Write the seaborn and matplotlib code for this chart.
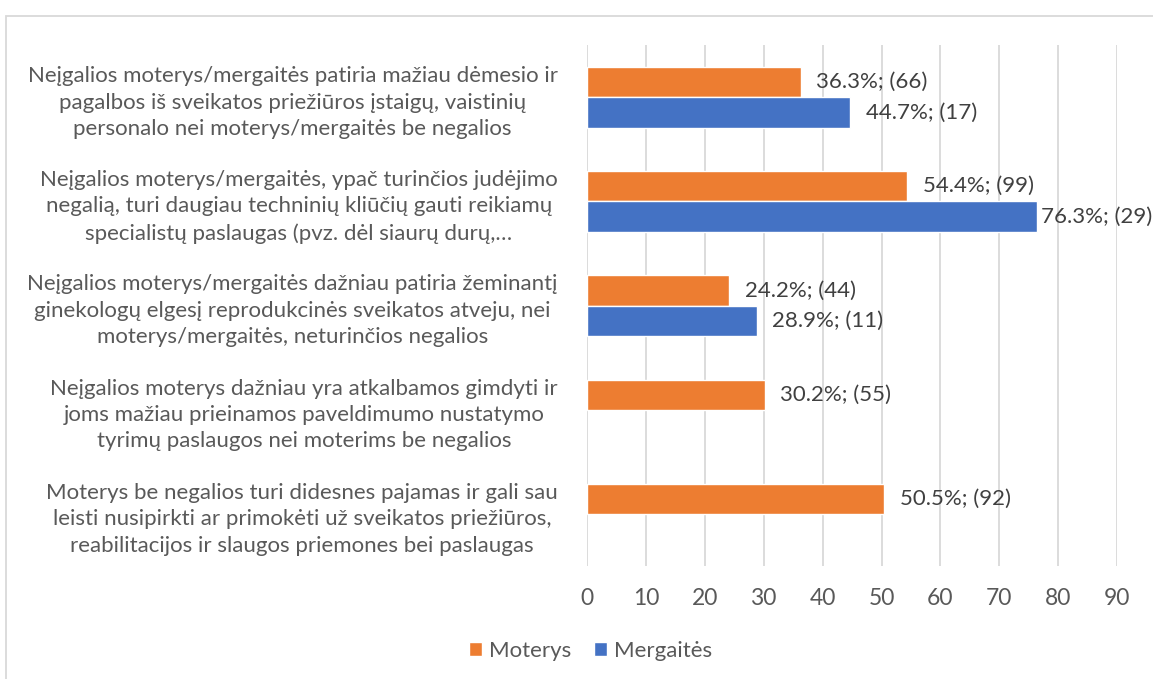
import numpy as np
import pandas as pd
import matplotlib.pyplot as plt
import seaborn as sns
from matplotlib.patches import Rectangle

# Data
categories = [
    "Neįgalios moterys/mergaitės patiria mažiau dėmesio ir\n"
    "pagalbos iš sveikatos priežiūros įstaigų, vaistinių\n"
    "personalo nei moterys/mergaitės be negalios",
    "Neįgalios moterys/mergaitės, ypač turinčios judėjimo\n"
    "negalią, turi daugiau techninių kliūčių gauti reikiamų\n"
    "specialistų paslaugas (pvz. dėl siaurų durų,…",
    "Neįgalios moterys/mergaitės dažniau patiria žeminantį\n"
    "ginekologų elgesį reprodukcinės sveikatos atveju, nei\n"
    "moterys/mergaitės, neturinčios negalios",
    "Neįgalios moterys dažniau yra atkalbamos gimdyti ir\n"
    "joms mažiau prieinamos paveldimumo nustatymo\n"
    "tyrimų paslaugos nei moterims be negalios",
    "Moterys be negalios turi didesnes pajamas ir gali sau\n"
    "leisti nusipirkti ar primokėti už sveikatos priežiūros,\n"
    "reabilitacijos ir slaugos priemones bei paslaugas",
]
moterys_pct = [36.3, 54.4, 24.2, 30.2, 50.5]
moterys_n = [66, 99, 44, 55, 92]
mergaites_pct = [44.7, 76.3, 28.9, np.nan, np.nan]
mergaites_n = [17, 29, 11, np.nan, np.nan]
groups = ["Moterys", "Mergaitės"]
colors = ["#ED7D31", "#4472C4"]
xticks = list(range(0, 100, 10))

# long table for seaborn
df = pd.DataFrame({
    "kategorija": categories * 2,
    "procentai": moterys_pct + mergaites_pct,
    "n": moterys_n + mergaites_n,
    "grupe": [groups[0]] * len(categories) + [groups[1]] * len(categories),
})
df = df.dropna()

sns.set_style("white")
plt.rcParams["font.family"] = ["Lato", "DejaVu Sans"]
text_color = "#595959"

fig = plt.figure(figsize=(11.53, 6.79), dpi=100)
ax = fig.add_axes([0.509, 0.1664, 0.460, 0.767])

sns.barplot(data=df, y="kategorija", x="procentai", hue="grupe",
            hue_order=groups, order=categories, palette=colors,
            orient="h", width=0.58, saturation=1, errorbar=None, ax=ax)

# data labels: "value%; (n)"
for container, g in zip(ax.containers, groups):
    sub = df[df["grupe"] == g]
    labels = [f"{p:.1f}%; ({int(n)})" for p, n in zip(sub["procentai"], sub["n"])]
    anns = ax.bar_label(container, labels=labels, padding=11, fontsize=16, color="#404040")
    # long bar: label sits closer to the bar end so it stays inside the figure
    for ann, p in zip(anns, sub["procentai"]):
        if p > 70:
            ann.xyann = (3, 0)

# axes styling
ax.set_xlim(0, 90)
ax.set_xticks(xticks)
ax.set_xlabel("")
ax.set_ylabel("")
ax.xaxis.grid(True, color="#D9D9D9", linewidth=1.3)
ax.set_axisbelow(True)
for s in ax.spines.values():
    s.set_visible(False)
ax.tick_params(axis="x", length=6, color="#D9D9D9", width=1.3, pad=10,
               labelsize=16.5, labelcolor=text_color)
ax.tick_params(axis="y", length=0, pad=21)
ax.set_yticks(range(len(categories)))
ax.set_yticklabels(categories, fontsize=16, color=text_color,
                   multialignment="center", linespacing=1.4)

# legend at the bottom
handles, labels = ax.get_legend_handles_labels()
ax.get_legend().remove()
fig.legend(handles, labels, loc="center", bbox_to_anchor=(0.512, 0.041), ncol=2,
           frameon=False, fontsize=16, labelcolor=text_color,
           handlelength=0.6, handleheight=0.6, handletextpad=0.3, columnspacing=1.0)

# light border round the chart area
fig.patches.append(Rectangle((0.005, -0.1), 1.2, 1.1 - 16 / 679, transform=fig.transFigure,
                             fill=False, edgecolor="#D9D9D9", linewidth=1.3))

fig.savefig("out.png", dpi=100)
